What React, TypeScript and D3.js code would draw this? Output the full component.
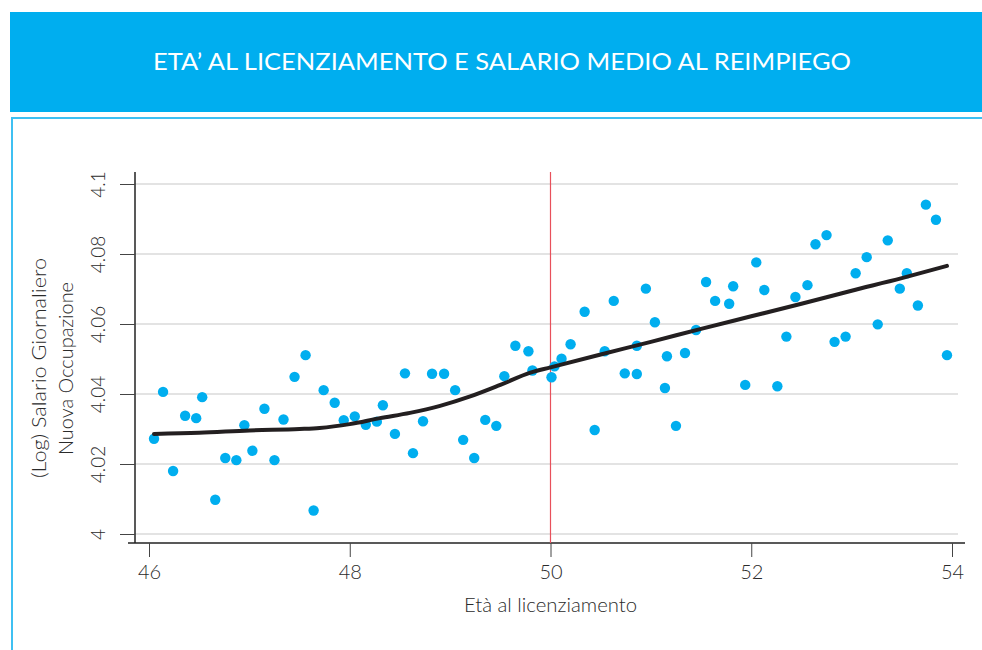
import React, { useEffect, useRef } from 'react';
import * as d3 from 'd3';

// Age at dismissal (bin means) and mean log daily wage in the new job
const ages = [
  46.05, 46.14, 46.24, 46.36, 46.47, 46.53, 46.66, 46.76, 46.87, 46.95,
  47.03, 47.15, 47.25, 47.34, 47.45, 47.56, 47.64, 47.74, 47.85, 47.94,
  48.05, 48.16, 48.27, 48.33, 48.45, 48.55, 48.63, 48.73, 48.82, 48.94,
  49.05, 49.13, 49.24, 49.35, 49.46, 49.54, 49.65, 49.78, 49.82, 50.01,
  50.04, 50.11, 50.2, 50.34, 50.44, 50.54, 50.63, 50.74, 50.86, 50.86,
  50.95, 51.04, 51.16, 51.14, 51.25, 51.34, 51.45, 51.55, 51.64, 51.78,
  51.82, 51.94, 52.05, 52.13, 52.26, 52.35, 52.44, 52.56, 52.64, 52.75,
  52.83, 52.94, 53.04, 53.15, 53.26, 53.36, 53.48, 53.55, 53.66, 53.74,
  53.84, 53.95,
];
const wages = [
  4.0272, 4.0406, 4.018, 4.0338, 4.0331, 4.0391, 4.0098, 4.0217, 4.0211, 4.0311,
  4.0238, 4.0358, 4.0211, 4.0327, 4.0449, 4.0511, 4.0067, 4.0411, 4.0375, 4.0325,
  4.0336, 4.0312, 4.0321, 4.0368, 4.0286, 4.0459, 4.0231, 4.0322, 4.0458, 4.0458,
  4.0411, 4.0269, 4.0217, 4.0326, 4.0309, 4.0451, 4.0538, 4.0522, 4.0467, 4.0448,
  4.0479, 4.0501, 4.0542, 4.0635, 4.0297, 4.0522, 4.0666, 4.0459, 4.0538, 4.0457,
  4.0701, 4.0605, 4.0508, 4.0417, 4.0309, 4.0517, 4.0583, 4.072, 4.0666, 4.0658,
  4.0708, 4.0426, 4.0776, 4.0697, 4.0422, 4.0564, 4.0677, 4.0711, 4.0828, 4.0854,
  4.0549, 4.0564, 4.0745, 4.0791, 4.0599, 4.0839, 4.0701, 4.0745, 4.0653, 4.0941,
  4.0898, 4.0511,
];

// Fitted curve
const fitAges = [46.05, 46.5, 47, 47.5, 47.7, 48, 48.3, 48.6, 48.9, 49.2, 49.5, 49.8, 50, 50.5, 51, 51.5, 52, 52.5, 53, 53.5, 53.95];
const fitWages = [4.0286, 4.0289, 4.0296, 4.03, 4.0303, 4.0314, 4.0331, 4.0346, 4.0366, 4.0393, 4.0426, 4.0461, 4.0476, 4.0513, 4.0549, 4.0586, 4.0622, 4.0658, 4.0695, 4.0731, 4.0766];

const xTicks = [46, 48, 50, 52, 54];
const yTicks = [4, 4.02, 4.04, 4.06, 4.08, 4.1];
const cutoff = 50;

const title = 'ETA’ AL LICENZIAMENTO E SALARIO MEDIO AL REIMPIEGO';
const xTitle = 'Età al licenziamento';
const yTitle = ['(Log) Salario Giornaliero', 'Nuova Occupazione'];

const App = () => {
  const svgRef = useRef<SVGSVGElement>(null);

  useEffect(() => {
    const svg = d3.select(svgRef.current);
    svg.selectAll('*').remove();

    const blue = '#00aeef';
    const font = 'Lato, "Open Sans", sans-serif';
    const textColor = '#2b2b2b';

    // header band
    svg.append('rect').attr('x', 10).attr('y', 12).attr('width', 972).attr('height', 100).attr('fill', blue);
    svg.append('text')
      .attr('x', 153).attr('y', 70)
      .attr('textLength', 698).attr('lengthAdjust', 'spacingAndGlyphs')
      .attr('font-family', font).attr('font-size', 23)
      .attr('fill', '#fff')
      .text(title);

    // frame
    svg.append('path')
      .attr('d', 'M12,650 V118 H982')
      .attr('fill', 'none').attr('stroke', '#3fc0f2').attr('stroke-width', 2);

    const x = d3.scaleLinear().domain([46, 54]).range([149, 952]);
    const y = d3.scaleLinear().domain([4, 4.1]).range([534, 184]);

    // grid
    svg.append('g').selectAll('line')
      .data(yTicks)
      .enter().append('line')
      .attr('x1', 135).attr('x2', 958)
      .attr('y1', d => y(d)).attr('y2', d => y(d))
      .attr('stroke', '#dadada').attr('stroke-width', 1.5);

    // y axis
    const yAxis = svg.append('g')
      .attr('transform', 'translate(135,0)')
      .call(d3.axisLeft(y).tickValues(yTicks).tickSize(15).tickPadding(0).tickFormat(d3.format('')));
    yAxis.select('.domain').attr('d', 'M0,172V543').attr('stroke', '#222').attr('stroke-width', 1.5);
    yAxis.selectAll('.tick line').attr('stroke', '#444');
    yAxis.selectAll('.tick text').remove();
    yAxis.selectAll('.tick').append('text')
      .attr('transform', 'translate(-30,0) rotate(-90)')
      .attr('text-anchor', 'middle')
      .attr('font-family', font).attr('font-size', 19).attr('font-weight', 300)
      .attr('fill', textColor)
      .text(d => d3.format('')(d as number));

    // x axis
    const xAxis = svg.append('g')
      .attr('transform', 'translate(0,543)')
      .call(d3.axisBottom(x).tickValues(xTicks).tickSize(14).tickFormat(d3.format('d')));
    xAxis.select('.domain').attr('d', 'M128,0H965').attr('stroke', '#222').attr('stroke-width', 1.5);
    xAxis.selectAll('.tick line').attr('stroke', '#444');
    xAxis.selectAll('.tick text')
      .attr('y', 36).attr('dy', 0)
      .attr('font-family', font).attr('font-size', 20).attr('font-weight', 300)
      .attr('fill', textColor);

    // axis titles
    svg.append('text')
      .attr('x', 464).attr('y', 612)
      .attr('textLength', 173).attr('lengthAdjust', 'spacingAndGlyphs')
      .attr('font-family', font).attr('font-size', 20).attr('font-weight', 300)
      .attr('fill', textColor)
      .text(xTitle);
    const yTitleSpans = [[258, 220], [282, 173]];
    yTitle.forEach((t, i) => {
      const [top, len] = yTitleSpans[i];
      svg.append('text')
        .attr('transform', `translate(${45.5 + i * 27.5},${top + len}) rotate(-90)`)
        .attr('textLength', len).attr('lengthAdjust', 'spacingAndGlyphs')
        .attr('font-family', font).attr('font-size', 20).attr('font-weight', 300)
        .attr('fill', textColor)
        .text(t);
    });

    // cutoff line
    svg.append('line')
      .attr('x1', x(cutoff)).attr('x2', x(cutoff))
      .attr('y1', 172).attr('y2', 543)
      .attr('stroke', '#e8505b').attr('stroke-width', 1.2);

    // scatter
    svg.append('g').selectAll('circle')
      .data(ages.map((a, i) => ({ a, w: wages[i] })))
      .enter().append('circle')
      .attr('cx', d => x(d.a))
      .attr('cy', d => y(d.w))
      .attr('r', 5.2)
      .attr('fill', blue);

    // fitted line
    const line = d3.line<number>()
      .x(d => x(d))
      .y((d, i) => y(fitWages[i]))
      .curve(d3.curveMonotoneX);
    svg.append('path')
      .datum(fitAges)
      .attr('fill', 'none')
      .attr('stroke', '#231f20')
      .attr('stroke-width', 4)
      .attr('stroke-linecap', 'round')
      .attr('d', line);
  }, []);

  return (
    <div style={{ position: 'absolute', left: 0, top: 0 }}>
      <svg ref={svgRef} width={982} height={650} style={{ display: 'block' }}></svg>
    </div>
  );
};

export default App;
